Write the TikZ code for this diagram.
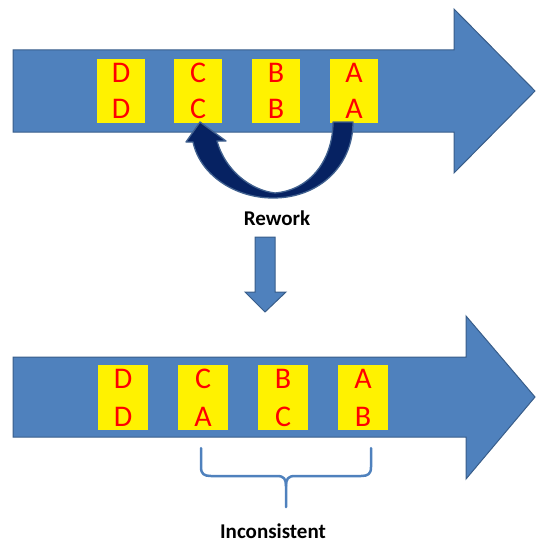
\documentclass[tikz,border=0pt]{standalone}
\usepackage{fontspec}
\setmainfont{Carlito}
\usetikzlibrary{calc}
\definecolor{arrowblue}{HTML}{4F81BD}
\definecolor{arrowedge}{HTML}{385D8A}
\definecolor{navyfill}{HTML}{062262}
\definecolor{navyedge}{HTML}{41618F}
\begin{document}
\begin{tikzpicture}[x=1pt,y=-1pt,
  bigarrow/.style={fill=arrowblue,draw=arrowedge,line width=1pt,line join=miter},
  slot/.style={fill=yellow,inner sep=0pt,align=center,text=red},
  topslot/.style={slot,minimum width=48pt,minimum height=64pt,font=\fontsize{30}{36}\selectfont},
  botslot/.style={slot,minimum width=50pt,minimum height=65pt,font=\fontsize{30}{38}\selectfont},
  lbl/.style={font=\fontsize{21}{25}\selectfont\bfseries,text=black},
  curvearrow/.style={fill=navyfill,draw=navyedge,line width=1.3pt,line join=round},
  bracestyle/.style={draw=arrowblue,line width=2.5pt,line cap=round,line join=round}]
\useasboundingbox (0,0) rectangle (536,543);

% top flow arrow
\draw[bigarrow] (13,50) -- (454,50) -- (454,9) -- (535,91) -- (454,173) -- (454,132) -- (13,132) -- cycle;
\node[topslot] (tD) at (121,91) {D\\D};
\node[topslot] (tC) at (198,91) {C\\C};
\node[topslot] (tB) at (276,91) {B\\B};
\node[topslot] (tA) at (354,91) {A\\A};

% rework curved arrow (from A back to C)
\draw[curvearrow] (353,122) .. controls (353,165) and (320,198) .. (273,198)
  .. controls (235,198) and (200,175) .. (193,142)
  -- (186,142) -- (200,122) -- (226,141) -- (217,141)
  .. controls (225,170) and (250,190) .. (275,193)
  .. controls (310,190) and (333,160) .. (333,122) -- cycle;

\node[lbl] (rework) at (277,218) {Rework};

% down arrow
\draw[bigarrow] (255,237) -- (275,237) -- (275,292) -- (286,292) -- (265,312) -- (245,292) -- (255,292) -- cycle;

% bottom flow arrow
\draw[bigarrow] (13,357) -- (466,357) -- (466,316) -- (535,397) -- (466,479) -- (466,437) -- (13,437) -- cycle;
\node[botslot] (bD) at (123,397.5) {D\\D};
\node[botslot] (bC) at (203,397.5) {C\\A};
\node[botslot] (bB) at (283,397.5) {B\\C};
\node[botslot] (bA) at (363,397.5) {A\\B};

% brace
\draw[bracestyle] (201,448) -- (201,467) .. controls (201,474) and (204,476) .. (211,476) -- (277,476)
  .. controls (284,476) and (286,479) .. (286,486) -- (286,507);
\draw[bracestyle] (371,448) -- (371,467) .. controls (371,474) and (368,476) .. (361,476) -- (295,476)
  .. controls (288,476) and (286,479) .. (286,486);

\node[lbl] (incons) at (273,531) {Inconsistent};
\end{tikzpicture}
\end{document}
